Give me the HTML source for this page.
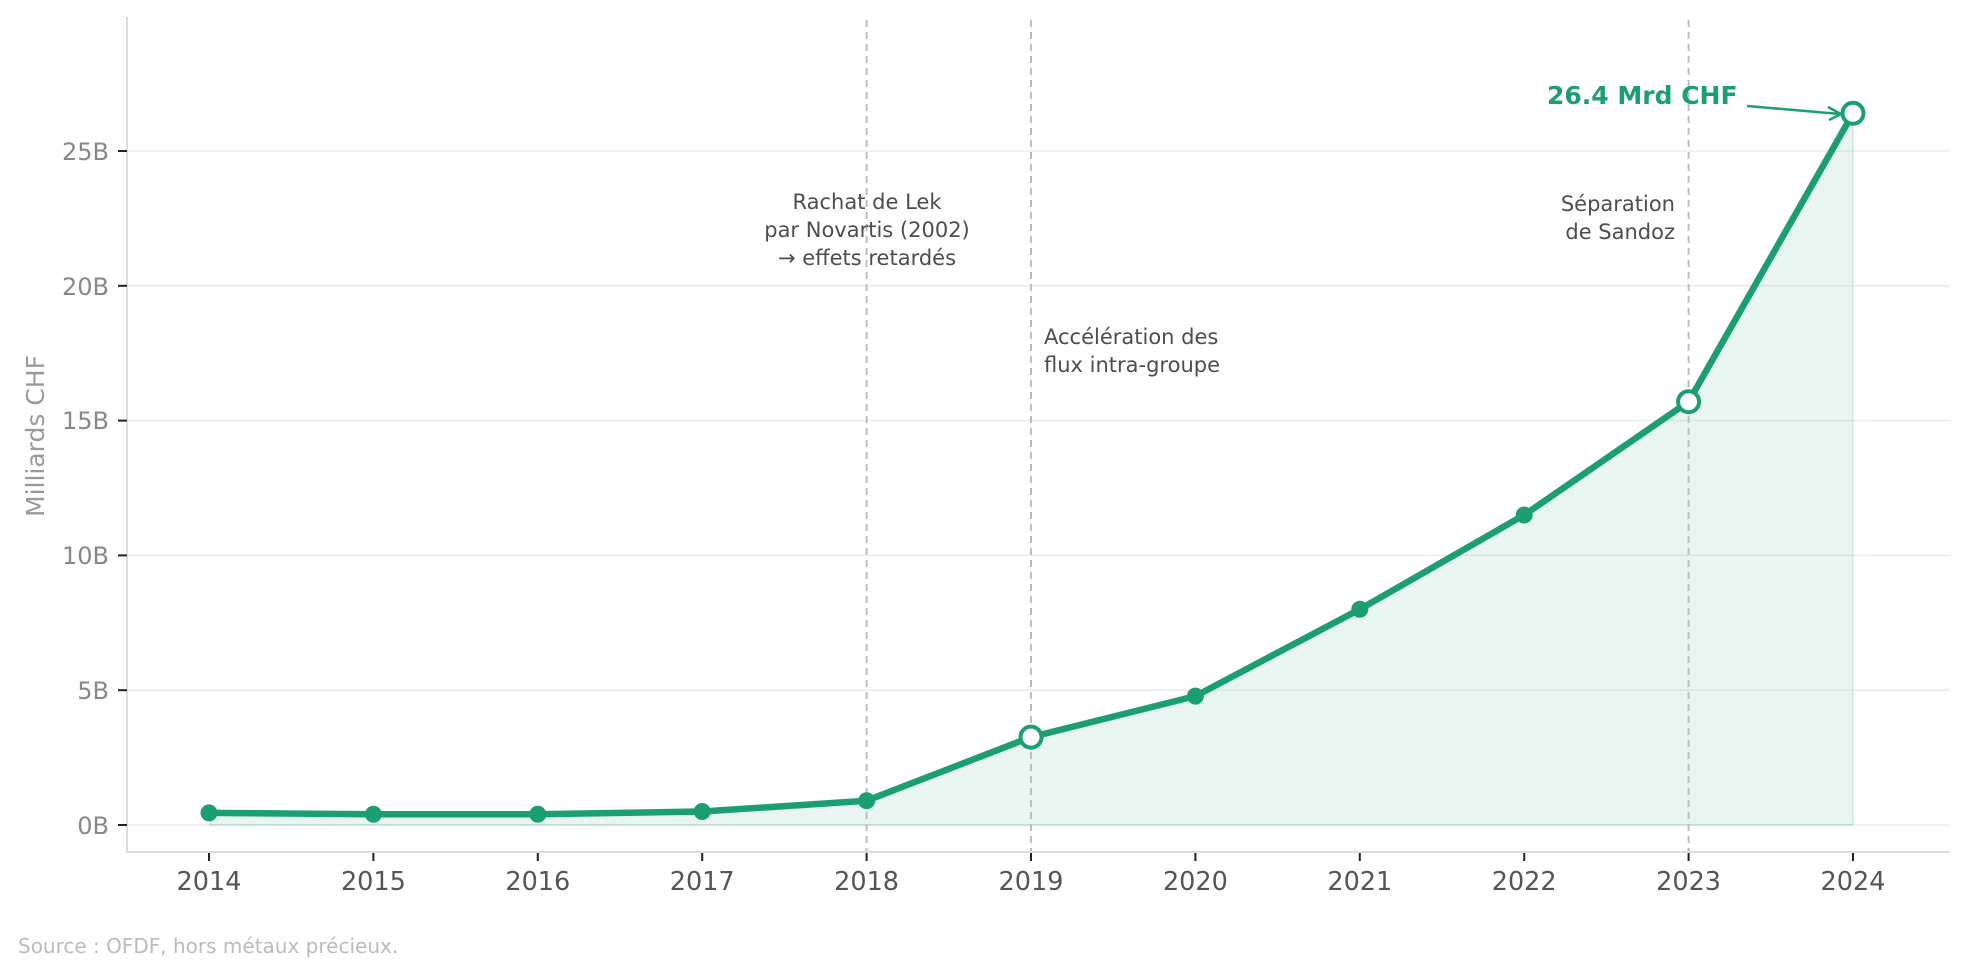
<!DOCTYPE html>
<html><head><meta charset="utf-8"><style>
html,body{margin:0;padding:0;background:#fff;}
svg{display:block;font-family:"DejaVu Sans","Liberation Sans",sans-serif;}
</style></head><body>
<svg width="1969" height="975" viewBox="0 0 1969 975" xmlns="http://www.w3.org/2000/svg">
<g stroke="#ebebeb" stroke-width="1.5">
<line x1="127" x2="1950" y1="825" y2="825"/>
<line x1="127" x2="1950" y1="690.2" y2="690.2"/>
<line x1="127" x2="1950" y1="555.4" y2="555.4"/>
<line x1="127" x2="1950" y1="420.6" y2="420.6"/>
<line x1="127" x2="1950" y1="285.8" y2="285.8"/>
<line x1="127" x2="1950" y1="151" y2="151"/>
</g>
<polygon fill="#1a9e72" fill-opacity="0.1" points="209,825 209,812.9 373.4,814.2 537.8,814.2 702.2,811.5 866.6,800.7 1031,737.1 1195.4,696.1 1359.8,609.3 1524.2,515.0 1688.6,401.7 1853,113.3 1853,825"/>
<line x1="1853" y1="113" x2="1853" y2="825" stroke="#1a9e72" stroke-opacity="0.12" stroke-width="2"/>
<line x1="209" y1="825" x2="1853" y2="825" stroke="#1a9e72" stroke-opacity="0.15" stroke-width="2"/>
<g stroke="#bdbdbd" stroke-width="2" stroke-dasharray="7,5">
<line x1="866.6" x2="866.6" y1="20" y2="852"/>
<line x1="1031" x2="1031" y1="20" y2="852"/>
<line x1="1688.6" x2="1688.6" y1="20" y2="852"/>
</g>
<line x1="127" x2="127" y1="17" y2="852" stroke="#dcdcdc" stroke-width="2"/>
<line x1="126" x2="1950" y1="852" y2="852" stroke="#dcdcdc" stroke-width="2"/>
<g stroke="#222" stroke-width="2">
<line x1="118" x2="127" y1="825" y2="825"/><line x1="118" x2="127" y1="690.2" y2="690.2"/>
<line x1="118" x2="127" y1="555.4" y2="555.4"/><line x1="118" x2="127" y1="420.6" y2="420.6"/>
<line x1="118" x2="127" y1="285.8" y2="285.8"/><line x1="118" x2="127" y1="151" y2="151"/>
<line x1="209" x2="209" y1="853" y2="861"/><line x1="373.4" x2="373.4" y1="853" y2="861"/>
<line x1="537.8" x2="537.8" y1="853" y2="861"/><line x1="702.2" x2="702.2" y1="853" y2="861"/>
<line x1="866.6" x2="866.6" y1="853" y2="861"/><line x1="1031" x2="1031" y1="853" y2="861"/>
<line x1="1195.4" x2="1195.4" y1="853" y2="861"/><line x1="1359.8" x2="1359.8" y1="853" y2="861"/>
<line x1="1524.2" x2="1524.2" y1="853" y2="861"/><line x1="1688.6" x2="1688.6" y1="853" y2="861"/>
<line x1="1853" x2="1853" y1="853" y2="861"/>
</g>
<g fill="#888" font-size="24" text-anchor="end">
<text x="109" y="834">0B</text><text x="109" y="699">5B</text><text x="109" y="564">10B</text>
<text x="109" y="429">15B</text><text x="109" y="295">20B</text><text x="109" y="160">25B</text>
</g>
<text transform="translate(44,436) rotate(-90)" fill="#999" font-size="25" text-anchor="middle">Milliards CHF</text>
<g fill="#555" font-size="25.5" text-anchor="middle">
<text x="209" y="890">2014</text><text x="373.4" y="890">2015</text><text x="537.8" y="890">2016</text>
<text x="702.2" y="890">2017</text><text x="866.6" y="890">2018</text><text x="1031" y="890">2019</text>
<text x="1195.4" y="890">2020</text><text x="1359.8" y="890">2021</text><text x="1524.2" y="890">2022</text>
<text x="1688.6" y="890">2023</text><text x="1853" y="890">2024</text>
</g>
<polyline fill="none" stroke="#1a9e72" stroke-width="6.5" stroke-linejoin="round" points="209,812.9 373.4,814.2 537.8,814.2 702.2,811.5 866.6,800.7 1031,737.1 1195.4,696.1 1359.8,609.3 1524.2,515.0 1688.6,401.7 1853,113.3"/>
<g fill="#1a9e72">
<circle cx="209" cy="812.9" r="8.5"/><circle cx="373.4" cy="814.2" r="8.5"/><circle cx="537.8" cy="814.2" r="8.5"/>
<circle cx="702.2" cy="811.5" r="8.5"/><circle cx="866.6" cy="800.7" r="8.5"/><circle cx="1195.4" cy="696.1" r="8.5"/>
<circle cx="1359.8" cy="609.3" r="8.5"/><circle cx="1524.2" cy="515.0" r="8.5"/>
</g>
<g fill="#fff" stroke="#1a9e72" stroke-width="4">
<circle cx="1031" cy="737.1" r="10.5"/><circle cx="1688.6" cy="401.7" r="10.5"/><circle cx="1853" cy="113.3" r="10.5"/>
</g>
<g fill="#4d4d4d" font-size="21">
<text x="867" y="209" text-anchor="middle">Rachat de Lek</text>
<text x="867" y="237" text-anchor="middle">par Novartis (2002)</text>
<text x="867" y="265" text-anchor="middle">→ effets retardés</text>
<text x="1044" y="344">Accélération des</text>
<text x="1044" y="372">flux intra-groupe</text>
<text x="1675" y="211" text-anchor="end">Séparation</text>
<text x="1675" y="239" text-anchor="end">de Sandoz</text>
</g>
<text x="1547" y="104" fill="#1a9e72" font-size="25" font-weight="bold">26.4 Mrd CHF</text>
<line x1="1747" y1="106" x2="1840" y2="114" stroke="#1a9e72" stroke-width="2.5"/>
<polyline points="1828,107 1841,114 1829,120" fill="none" stroke="#1a9e72" stroke-width="2.5"/>
<text x="18" y="953" fill="#bbb" font-size="20">Source : OFDF, hors métaux précieux.</text>
</svg>
</body></html>
